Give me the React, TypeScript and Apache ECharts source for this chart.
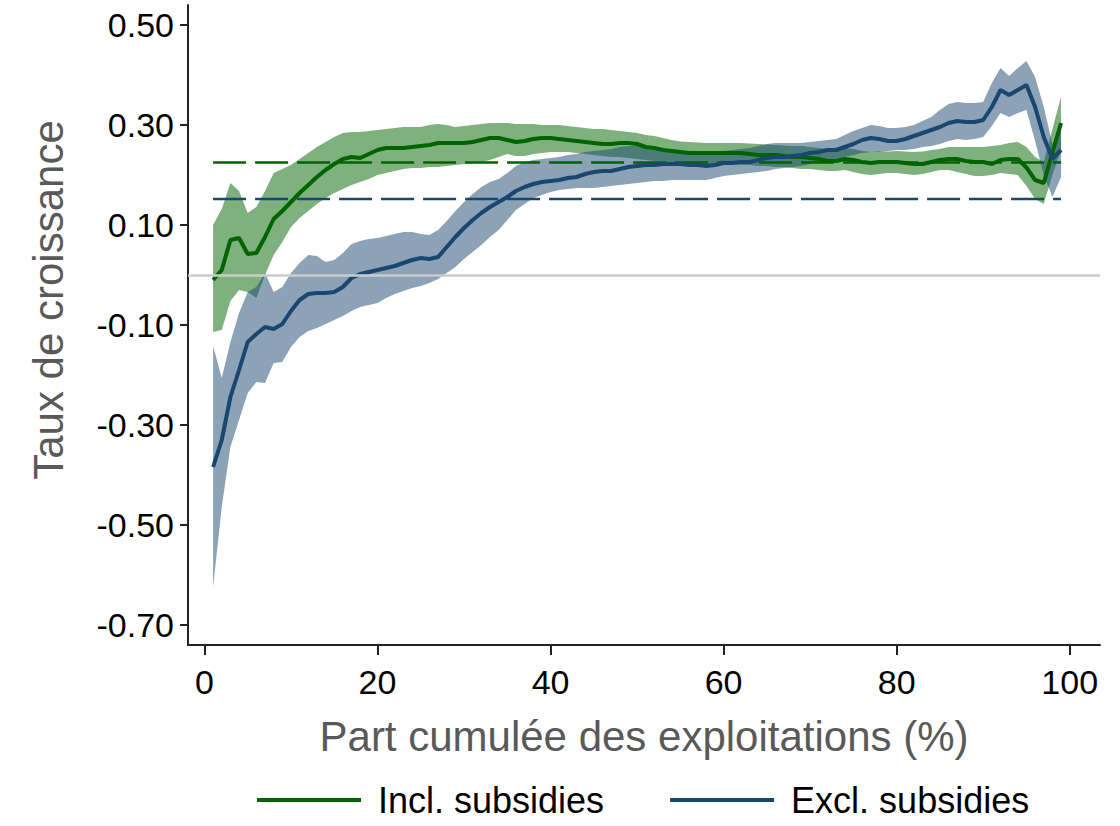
import React, { useEffect, useRef } from "react";
import * as echarts from "echarts";

// Percentile of farms (cumulative share)
const PCT: number[] = Array.from({ length: 99 }, (_, i) => i + 1);

// Incl. subsidies
const INCL: number[] = [
  -0.010, 0.010, 0.070, 0.074, 0.042, 0.044, 0.076, 0.112, 0.128, 0.146,
  0.164, 0.180, 0.196, 0.210, 0.222, 0.232, 0.236, 0.234, 0.242, 0.250,
  0.254, 0.254, 0.254, 0.256, 0.258, 0.260, 0.264, 0.264, 0.264, 0.264,
  0.266, 0.270, 0.274, 0.274, 0.270, 0.266, 0.268, 0.272, 0.274, 0.274,
  0.272, 0.270, 0.268, 0.266, 0.264, 0.262, 0.262, 0.264, 0.264, 0.262,
  0.256, 0.254, 0.250, 0.248, 0.246, 0.244, 0.244, 0.244, 0.244, 0.244,
  0.244, 0.244, 0.242, 0.240, 0.240, 0.240, 0.238, 0.236, 0.236, 0.234,
  0.232, 0.228, 0.228, 0.232, 0.230, 0.226, 0.224, 0.226, 0.226, 0.226,
  0.224, 0.222, 0.222, 0.226, 0.230, 0.232, 0.232, 0.228, 0.226, 0.226,
  0.222, 0.230, 0.232, 0.232, 0.215, 0.190, 0.184, 0.245, 0.304,
];
const INCL_HI: number[] = [
  0.100, 0.132, 0.184, 0.168, 0.124, 0.136, 0.168, 0.204, 0.212, 0.220,
  0.232, 0.244, 0.256, 0.266, 0.276, 0.284, 0.286, 0.286, 0.288, 0.290,
  0.292, 0.294, 0.296, 0.296, 0.296, 0.300, 0.302, 0.300, 0.296, 0.298,
  0.300, 0.302, 0.304, 0.304, 0.304, 0.302, 0.302, 0.302, 0.300, 0.300,
  0.300, 0.298, 0.296, 0.294, 0.292, 0.292, 0.290, 0.288, 0.286, 0.284,
  0.280, 0.278, 0.274, 0.270, 0.267, 0.266, 0.265, 0.264, 0.264, 0.264,
  0.264, 0.264, 0.263, 0.262, 0.261, 0.260, 0.259, 0.258, 0.258, 0.256,
  0.254, 0.252, 0.252, 0.254, 0.252, 0.248, 0.246, 0.247, 0.247, 0.248,
  0.247, 0.246, 0.247, 0.250, 0.252, 0.256, 0.256, 0.256, 0.256, 0.256,
  0.258, 0.260, 0.264, 0.266, 0.256, 0.236, 0.226, 0.292, 0.356,
];
const INCL_LO: number[] = [
  -0.114, -0.110, -0.052, -0.030, -0.034, -0.046, 0.000, 0.040, 0.066, 0.096,
  0.114, 0.128, 0.142, 0.154, 0.164, 0.172, 0.180, 0.186, 0.192, 0.200,
  0.204, 0.208, 0.212, 0.214, 0.214, 0.216, 0.216, 0.218, 0.220, 0.222,
  0.224, 0.226, 0.230, 0.236, 0.242, 0.238, 0.238, 0.242, 0.244, 0.246,
  0.246, 0.246, 0.244, 0.242, 0.240, 0.238, 0.236, 0.236, 0.234, 0.232,
  0.230, 0.228, 0.226, 0.224, 0.222, 0.222, 0.222, 0.222, 0.222, 0.222,
  0.222, 0.220, 0.220, 0.218, 0.218, 0.216, 0.216, 0.214, 0.212, 0.212,
  0.210, 0.208, 0.208, 0.210, 0.206, 0.202, 0.200, 0.202, 0.204, 0.204,
  0.202, 0.200, 0.202, 0.206, 0.210, 0.210, 0.206, 0.202, 0.198, 0.198,
  0.200, 0.204, 0.202, 0.200, 0.178, 0.152, 0.142, 0.200, 0.250,
];

// Excl. subsidies
const EXCL: number[] = [
  -0.384, -0.330, -0.244, -0.190, -0.134, -0.118, -0.104, -0.108, -0.098, -0.072,
  -0.050, -0.038, -0.036, -0.036, -0.034, -0.024, -0.006, 0.002, 0.006, 0.010,
  0.014, 0.018, 0.024, 0.030, 0.034, 0.032, 0.036, 0.056, 0.076, 0.094,
  0.110, 0.124, 0.136, 0.146, 0.156, 0.168, 0.176, 0.182, 0.186, 0.188,
  0.190, 0.194, 0.196, 0.202, 0.206, 0.208, 0.208, 0.212, 0.216, 0.218,
  0.220, 0.220, 0.222, 0.222, 0.222, 0.220, 0.220, 0.218, 0.220, 0.224,
  0.224, 0.226, 0.226, 0.230, 0.234, 0.236, 0.236, 0.238, 0.240, 0.244,
  0.246, 0.250, 0.250, 0.256, 0.262, 0.270, 0.274, 0.272, 0.268, 0.268,
  0.272, 0.278, 0.284, 0.290, 0.296, 0.304, 0.308, 0.306, 0.306, 0.310,
  0.336, 0.370, 0.360, 0.370, 0.380, 0.336, 0.276, 0.232, 0.250,
];
const EXCL_HI: number[] = [
  -0.142, -0.206, -0.134, -0.076, -0.034, -0.024, 0.004, -0.034, -0.024, 0.004,
  0.024, 0.040, 0.038, 0.026, 0.030, 0.044, 0.062, 0.068, 0.072, 0.074,
  0.078, 0.082, 0.086, 0.086, 0.082, 0.080, 0.090, 0.108, 0.128, 0.146,
  0.162, 0.176, 0.186, 0.192, 0.204, 0.218, 0.226, 0.230, 0.232, 0.234,
  0.236, 0.240, 0.242, 0.246, 0.248, 0.250, 0.252, 0.256, 0.258, 0.258,
  0.258, 0.256, 0.252, 0.248, 0.246, 0.246, 0.244, 0.244, 0.246, 0.248,
  0.250, 0.252, 0.254, 0.258, 0.262, 0.264, 0.264, 0.264, 0.264, 0.266,
  0.268, 0.270, 0.272, 0.280, 0.288, 0.294, 0.300, 0.298, 0.294, 0.294,
  0.296, 0.300, 0.308, 0.316, 0.330, 0.342, 0.346, 0.344, 0.344, 0.346,
  0.384, 0.414, 0.398, 0.414, 0.428, 0.396, 0.336, 0.262, 0.298,
];
const EXCL_LO: number[] = [
  -0.624, -0.464, -0.344, -0.290, -0.236, -0.214, -0.216, -0.176, -0.174, -0.144,
  -0.124, -0.112, -0.106, -0.098, -0.090, -0.082, -0.072, -0.064, -0.060, -0.056,
  -0.046, -0.038, -0.032, -0.026, -0.022, -0.016, -0.008, 0.004, 0.016, 0.032,
  0.046, 0.060, 0.076, 0.090, 0.110, 0.130, 0.142, 0.154, 0.160, 0.166,
  0.170, 0.172, 0.174, 0.174, 0.174, 0.176, 0.178, 0.180, 0.182, 0.184,
  0.186, 0.188, 0.188, 0.190, 0.190, 0.190, 0.190, 0.190, 0.194, 0.198,
  0.200, 0.202, 0.204, 0.206, 0.208, 0.212, 0.214, 0.216, 0.218, 0.222,
  0.226, 0.230, 0.232, 0.236, 0.240, 0.244, 0.246, 0.246, 0.248, 0.250,
  0.250, 0.252, 0.256, 0.258, 0.262, 0.268, 0.272, 0.270, 0.272, 0.276,
  0.298, 0.324, 0.316, 0.324, 0.330, 0.268, 0.200, 0.156, 0.196,
];

// Means (dashed reference lines)
const MEAN_INCL = 0.225;
const MEAN_EXCL = 0.152;

const X_TICKS: number[] = [0, 20, 40, 60, 80, 100];
const Y_TICKS: number[] = [-0.7, -0.5, -0.3, -0.1, 0.1, 0.3, 0.5];

const NAMES = ["Incl. subsidies", "Excl. subsidies"];
const GREEN = "#006400";
const NAVY = "#1a476f";
const FONT = "'Liberation Sans', Arial, Helvetica, sans-serif";

function band(name: string, hi: number[], lo: number[], fill: string) {
  return {
    type: "custom",
    name,
    silent: true,
    z: 2,
    data: [[PCT[0], hi[0]]],
    encode: { x: 0, y: 1 },
    renderItem: (_params: any, api: any) => {
      const pts: number[][] = [];
      for (let i = 0; i < PCT.length; i++) pts.push(api.coord([PCT[i], hi[i]]));
      for (let i = PCT.length - 1; i >= 0; i--) pts.push(api.coord([PCT[i], lo[i]]));
      return { type: "polygon", shape: { points: pts }, style: { fill } };
    },
  };
}

export default function App() {
  const ref = useRef<HTMLDivElement>(null);
  useEffect(() => {
    if (!ref.current) return;
    const chart = echarts.init(ref.current, undefined, { renderer: "svg" });
    const option: any = {
      animation: false,
      backgroundColor: "#ffffff",
      textStyle: { fontFamily: FONT },
      grid: { left: 188, right: 20, top: 5, bottom: 181, containLabel: false },
      xAxis: {
        type: "value",
        min: -1.9,
        max: 103.5,
        name: "Part cumulée des exploitations (%)",
        nameLocation: "middle",
        nameGap: 70,
        nameTextStyle: { fontSize: 42, color: "#595959", fontFamily: FONT },
        axisLine: { show: true, onZero: false, lineStyle: { color: "#222", width: 2 } },
        axisTick: { show: true, customValues: X_TICKS, length: 10, lineStyle: { color: "#222", width: 2 } },
        axisLabel: { customValues: X_TICKS, fontSize: 34, color: "#000", margin: 20, fontFamily: FONT },
        splitLine: { show: false },
      },
      yAxis: {
        type: "value",
        min: -0.74,
        max: 0.54,
        axisLine: { show: true, onZero: false, lineStyle: { color: "#222", width: 2 } },
        axisTick: { show: true, customValues: Y_TICKS, length: 8, lineStyle: { color: "#222", width: 2 } },
        axisLabel: {
          customValues: Y_TICKS,
          fontSize: 34,
          color: "#000",
          margin: 14,
          fontFamily: FONT,
          formatter: (v: number) => v.toFixed(2),
        },
        splitLine: { show: false },
      },
      legend: {
        data: NAMES,
        left: 252,
        top: 776,
        icon: "rect",
        itemWidth: 104,
        itemHeight: 4,
        itemGap: 66,
        textStyle: { fontSize: 36, lineHeight: 38, color: "#000", fontFamily: FONT, padding: [0, 0, 0, 12] },
      },
      graphic: [
        {
          type: "text",
          x: 48,
          y: 300,
          rotation: Math.PI / 2,
          style: {
            text: "Taux de croissance",
            font: `42px ${FONT}`,
            fill: "#595959",
            align: "center",
            verticalAlign: "middle",
          },
        },
      ],
      series: [
        {
          type: "line",
          name: "zero",
          z: 1,
          data: [],
          markLine: {
            silent: true,
            symbol: "none",
            label: { show: false },
            lineStyle: { color: "#cccccc", width: 2.5, type: "solid" },
            data: [{ yAxis: 0 }],
          },
        },
        band("band-incl", INCL_HI, INCL_LO, "rgba(0,100,0,0.5)"),
        band("band-excl", EXCL_HI, EXCL_LO, "rgba(26,71,111,0.5)"),
        {
          type: "line",
          name: "mean-incl",
          z: 3,
          showSymbol: false,
          silent: true,
          data: [[PCT[0], MEAN_INCL], [PCT[PCT.length - 1], MEAN_INCL]],
          lineStyle: { color: GREEN, width: 2.5, type: [33, 9] },
        },
        {
          type: "line",
          name: "mean-excl",
          z: 3,
          showSymbol: false,
          silent: true,
          data: [[PCT[0], MEAN_EXCL], [PCT[PCT.length - 1], MEAN_EXCL]],
          lineStyle: { color: NAVY, width: 2.5, type: [33, 9] },
        },
        {
          type: "line",
          name: NAMES[0],
          z: 4,
          showSymbol: false,
          color: GREEN,
          data: PCT.map((x, i) => [x, INCL[i]]),
          lineStyle: { color: GREEN, width: 4 },
        },
        {
          type: "line",
          name: NAMES[1],
          z: 4,
          showSymbol: false,
          color: NAVY,
          data: PCT.map((x, i) => [x, EXCL[i]]),
          lineStyle: { color: NAVY, width: 4 },
        },
      ],
    };
    chart.setOption(option);
    return () => chart.dispose();
  }, []);
  return (
    <div
      ref={ref}
      style={{ position: "fixed", left: 0, top: 0, width: 1120, height: 826, background: "#fff" }}
    />
  );
}
